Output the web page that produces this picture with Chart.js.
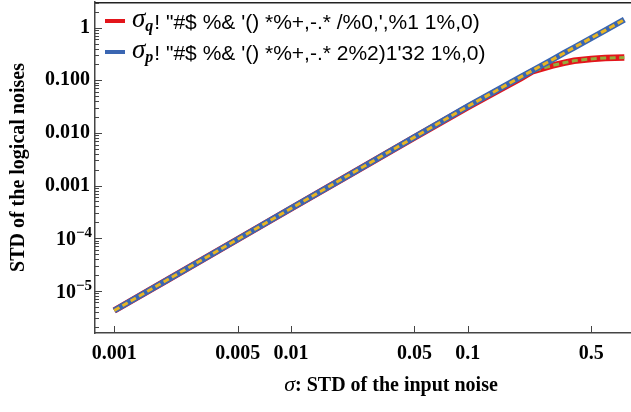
<!DOCTYPE html>
<html>
<head>
<meta charset="utf-8">
<script src="https://cdn.jsdelivr.net/npm/chart.js@4"></script>
<style>
  body { margin: 0; background: #fff; }
  canvas { display: block; }
</style>
</head>
<body>
<canvas id="noiseChart" width="631" height="412"></canvas>
<script>
// --- DATA ---
const sigmaValues = [0.001, 0.002, 0.005, 0.01, 0.02, 0.05, 0.1, 0.15, 0.2, 0.234, 0.3, 0.35, 0.4, 0.5, 0.6, 0.77];
const sigmaP = [4.2e-6, 1.61e-5, 9.5e-5, 3.66e-4, 1.40e-3, 8.3e-3, 0.0318, 0.0676, 0.116, 0.155, 0.245, 0.327, 0.42, 0.635, 0.891, 1.42];
const sigmaQ = [4.2e-6, 1.61e-5, 9.5e-5, 3.66e-4, 1.40e-3, 8.2e-3, 0.031, 0.065, 0.11, 0.15, 0.19, 0.215, 0.235, 0.255, 0.265, 0.27];

const xTicks = [0.001, 0.005, 0.01, 0.05, 0.1, 0.5];
const xTickLabels = ["0.001", "0.005", "0.01", "0.05", "0.1", "0.5"];
const yTicks = [1e-5, 1e-4, 1e-3, 1e-2, 1e-1, 1];
// "" entries are powers of ten, drawn with a real superscript in the plugin
const yTickLabels = ["", "", "0.001", "0.010", "0.100", "1"];
const yExponents = [-5, -4, null, null, null, null];

const legendRest = [
    "! \"#$ %& '() *%+,-.* /%0,',%1 1%,0)",
    "! \"#$ %& '() *%+,-.* 2%2)1'32 1%,0)"
];
const legendSubs = ["q", "p"];

const xTitle = "STD of the input noise";
const yTitle = "STD of the logical noises";

// --- HELPERS ---
const toPoints = ys => sigmaValues.map((x, i) => ({ x: x, y: ys[i] }));
const tickFont = { family: "Liberation Serif", size: 20, weight: "bold" };

// inside tick marks, frame, legend and titles
const decorPlugin = {
    id: "decor",
    afterDraw(chart) {
        const ctx = chart.ctx;
        const area = chart.chartArea;
        const xs = chart.scales.x;
        const ys = chart.scales.y;

        ctx.save();
        // top frame line
        ctx.strokeStyle = "#222";
        ctx.lineWidth = 1.5;
        ctx.beginPath();
        ctx.moveTo(area.left, area.top + 0.75);
        ctx.lineTo(area.right, area.top + 0.75);
        ctx.stroke();

        // y ticks (major + minor), pointing inside
        ctx.strokeStyle = "#444";
        ctx.lineWidth = 1;
        for (let e = -6; e <= 0; e++) {
            for (let m = 1; m <= 9; m++) {
                const v = m * Math.pow(10, e);
                const py = ys.getPixelForValue(v);
                if (py < area.top || py > area.bottom) continue;
                const len = m === 1 ? 7 : 4;
                ctx.beginPath();
                ctx.moveTo(area.left, Math.round(py) + 0.5);
                ctx.lineTo(area.left + len, Math.round(py) + 0.5);
                ctx.stroke();
            }
        }
        // x major ticks, pointing inside
        xTicks.forEach(v => {
            const px = Math.round(xs.getPixelForValue(v)) + 0.5;
            ctx.beginPath();
            ctx.moveTo(px, area.bottom);
            ctx.lineTo(px, area.bottom - 7);
            ctx.stroke();
        });

        // power-of-ten y labels
        ctx.fillStyle = "#000";
        ctx.textBaseline = "alphabetic";
        yTicks.forEach((v, i) => {
            if (yExponents[i] === null) return;
            const py = ys.getPixelForValue(v);
            const expText = "\u2212" + Math.abs(yExponents[i]);
            ctx.font = "bold 15px 'Liberation Serif'";
            const expW = ctx.measureText(expText).width;
            const right = 92;
            ctx.textAlign = "right";
            ctx.fillText(expText, right, py - 1);
            ctx.font = "bold 20px 'Liberation Serif'";
            ctx.fillText("10", right - expW, py + 7);
        });

        // legend
        const legendColors = ["#e3151b", "#3a66b2"];
        const legendY = [21, 52];
        legendY.forEach((ly, i) => {
            ctx.strokeStyle = legendColors[i];
            ctx.lineWidth = 4;
            ctx.beginPath();
            ctx.moveTo(105, ly);
            ctx.lineTo(125, ly);
            ctx.stroke();

            ctx.fillStyle = "#000";
            ctx.textAlign = "left";
            let tx = 132;
            ctx.font = "italic 27px 'Liberation Serif'";
            ctx.fillText("\u03C3", tx, ly + 6);
            tx += ctx.measureText("\u03C3").width;
            ctx.font = "italic bold 16px 'Liberation Serif'";
            ctx.fillText(legendSubs[i], tx, ly + 10);
            tx += ctx.measureText(legendSubs[i]).width + 1;
            ctx.font = "21px 'Liberation Sans'";
            ctx.fillText(legendRest[i], tx, ly + 8);
        });

        // x title
        ctx.fillStyle = "#000";
        ctx.font = "italic 22px 'Liberation Serif'";
        const sig = "\u03C3";
        const sigW = ctx.measureText(sig).width;
        ctx.font = "bold 20px 'Liberation Serif'";
        const rest = ": " + xTitle;
        const restW = ctx.measureText(rest).width;
        const startX = 391 - (sigW + restW) / 2;
        ctx.textAlign = "left";
        ctx.font = "italic 22px 'Liberation Serif'";
        ctx.fillText(sig, startX, 391);
        ctx.font = "bold 20px 'Liberation Serif'";
        ctx.fillText(rest, startX + sigW, 391);

        // y title
        ctx.translate(24, (area.top + area.bottom) / 2);
        ctx.rotate(-Math.PI / 2);
        ctx.textAlign = "center";
        ctx.font = "bold 20px 'Liberation Serif'";
        ctx.fillText(yTitle, 0, 0);
        ctx.restore();
    }
};

// --- CHART ---
const ctx = document.getElementById("noiseChart").getContext("2d");
const myChart = new Chart(ctx, {
    type: "line",
    data: {
        datasets: [
            {
                label: "q outer",
                data: toPoints(sigmaQ),
                borderColor: "#e3151b",
                borderWidth: 6.5,
                pointRadius: 0,
                order: 4
            },
            {
                label: "q inner",
                data: toPoints(sigmaQ),
                borderColor: "#93ad3c",
                borderWidth: 3,
                borderDash: [6, 3.5],
                pointRadius: 0,
                order: 3
            },
            {
                label: "p outer",
                data: toPoints(sigmaP),
                borderColor: "#3a66b2",
                borderWidth: 6,
                pointRadius: 0,
                order: 2
            },
            {
                label: "p inner",
                data: toPoints(sigmaP),
                borderColor: "#e8b523",
                borderWidth: 3,
                borderDash: [6, 3.5],
                pointRadius: 0,
                order: 1
            }
        ]
    },
    options: {
        responsive: false,
        animation: false,
        layout: { padding: { top: 2, right: 0, left: 0, bottom: 0 } },
        plugins: {
            legend: { display: false },
            tooltip: { enabled: false }
        },
        scales: {
            x: {
                type: "logarithmic",
                min: 0.000778,
                max: 0.84,
                afterBuildTicks: s => { s.ticks = xTicks.map(v => ({ value: v })); },
                afterFit: s => { s.height = 79; s.paddingLeft = 0; s.paddingRight = 0; },
                grid: { display: false, drawTicks: false },
                border: { display: true, color: "#444", width: 1.5 },
                ticks: {
                    font: tickFont,
                    color: "#000",
                    padding: 9,
                    autoSkip: false,
                    maxRotation: 0,
                    callback: (v, i) => xTickLabels[i]
                }
            },
            y: {
                type: "logarithmic",
                min: 1.57e-6,
                max: 3.08,
                afterBuildTicks: s => { s.ticks = yTicks.map(v => ({ value: v })); },
                afterFit: s => { s.width = 95; s.paddingTop = 0; s.paddingBottom = 0; },
                grid: { display: false, drawTicks: false },
                border: { display: true, color: "#444", width: 1.5 },
                ticks: {
                    font: tickFont,
                    color: "#000",
                    padding: 5,
                    autoSkip: false,
                    callback: (v, i) => yTickLabels[i]
                }
            }
        }
    },
    plugins: [decorPlugin]
});
</script>
</body>
</html>
